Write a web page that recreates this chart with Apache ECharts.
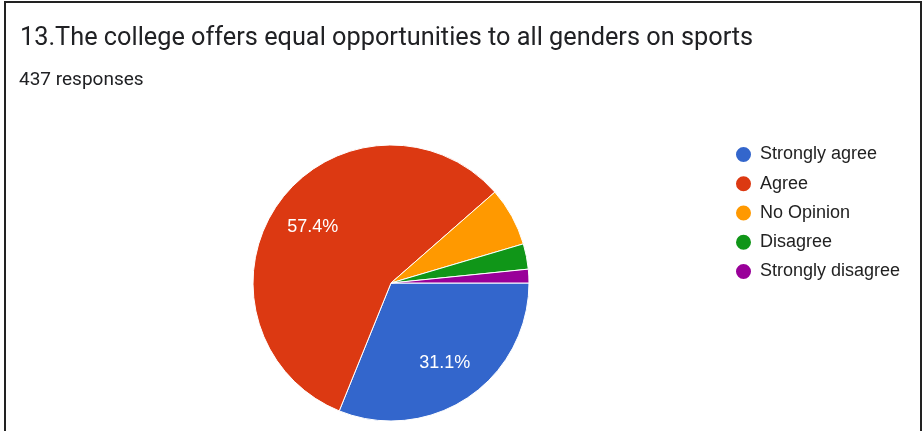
<!DOCTYPE html>
<html><head><meta charset="utf-8">
<script src="https://cdn.jsdelivr.net/npm/echarts@6/dist/echarts.min.js"></script>
<style>html,body{margin:0;padding:0;background:#fff}#c{width:924px;height:431px}</style>
</head><body><div id="c"></div>
<script>
const titleText = "13.The college offers equal opportunities to all genders on sports";
const subtitleText = "437 responses";
const categories = ["Strongly agree", "Agree", "No Opinion", "Disagree", "Strongly disagree"];
const counts = [136, 251, 30, 13, 7];
const colors = ["#3366cc", "#dc3912", "#ff9900", "#109618", "#990099"];

const chart = echarts.init(document.getElementById('c'), null, {renderer: 'canvas'});
const data = categories.map((n, i) => ({name: n, value: counts[i], itemStyle: {color: colors[i]}}));
const total = counts.reduce((a, b) => a + b, 0);
const center = [391, 283];
const R = 138;
chart.setOption({
  animation: false,
  title: [
    {text: titleText, left: 20, top: 26, padding: 0, textStyle: {fontFamily: 'Roboto', fontSize: 25.3, fontWeight: 'normal', color: '#202124'}},
    {text: subtitleText, left: 19, top: 71, padding: 0, textStyle: {fontFamily: 'Roboto', fontSize: 19, fontWeight: 'normal', color: '#202124'}}
  ],
  legend: {
    orient: 'vertical', left: 734, top: 145, padding: 0, icon: 'circle', itemWidth: 17, itemHeight: 17, itemGap: 10.25,
    textStyle: {fontFamily: 'Arial, Liberation Sans', fontSize: 18, color: '#222', padding: [0, 0, 0, 3]},
    data: categories
  },
  graphic: [
    {type: 'polyline', shape: {points: [[5, 431], [5, 2], [921, 2], [921, 431]]}, style: {stroke: '#222', lineWidth: 2, fill: null}}
  ],
  series: [
    {
      type: 'pie', center: center, radius: [0, R], startAngle: 0, clockwise: true,
      data: data, label: {show: false}, labelLine: {show: false},
      itemStyle: {borderColor: '#fff', borderWidth: 1}, emphasis: {disabled: true}
    },
    {
      type: 'pie', center: center, radius: [R * 0.35, R], startAngle: 0, clockwise: true, silent: true,
      data: categories.map((n, i) => ({name: n, value: counts[i]})),
      itemStyle: {color: 'rgba(0,0,0,0)', borderWidth: 0},
      label: {show: true, position: 'inside', color: '#fff', fontFamily: 'Arial, Liberation Sans', fontSize: 18,
        formatter: p => p.percent > 10 ? (counts[p.dataIndex] / total * 100).toFixed(1) + '%' : ''},
      labelLine: {show: false}, emphasis: {disabled: true}
    }
  ]
});
</script></body></html>
